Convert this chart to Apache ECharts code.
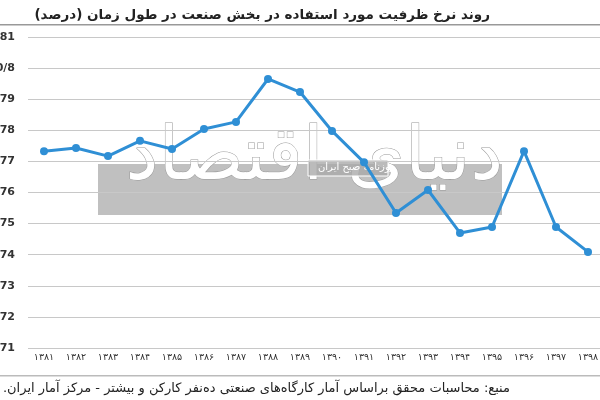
<!DOCTYPE html>
<html>
<head>
<meta charset="utf-8">
<script src="https://cdn.jsdelivr.net/npm/echarts@6/dist/echarts.min.js"></script>
<style>
  html, body { margin: 0; padding: 0; background: #fff; }
  #chart { width: 600px; height: 400px; }
</style>
</head>
<body>
<div id="chart"></div>
<script>
// سال‌ها (محور افقی)
var years = ['۱۳۸۱','۱۳۸۲','۱۳۸۳','۱۳۸۴','۱۳۸۵','۱۳۸۶','۱۳۸۷','۱۳۸۸','۱۳۸۹',
             '۱۳۹۰','۱۳۹۱','۱۳۹۲','۱۳۹۳','۱۳۹۴','۱۳۹۵','۱۳۹۶','۱۳۹۷','۱۳۹۸'];
// نرخ ظرفیت مورد استفاده (درصد)
var capacity = [77.33, 77.43, 77.17, 77.66, 77.40, 78.04, 78.27, 79.65, 79.23,
                77.98, 76.97, 75.34, 76.08, 74.70, 74.89, 77.33, 74.89, 74.09];
// برچسب‌های محور عمودی
var yTicks = [71, 72, 73, 74, 75, 76, 77, 78, 79, 80, 81];
var yLabels = ['71', '72', '73', '74', '75', '76', '77', '78', '79', '0/8', '81'];

var chart = echarts.init(document.getElementById('chart'));

var option = {
    animation: false,
    textStyle: { fontFamily: 'DejaVu Sans' },
    title: {
        text: 'روند نرخ ظرفیت مورد استفاده در بخش صنعت در طول زمان (درصد)',
        right: 105,
        top: 3,
        textStyle: { fontSize: 13.5, fontWeight: 'bold', color: '#222', fontFamily: 'DejaVu Sans' }
    },
    grid: { left: 28, top: 37, width: 576, height: 311, outerBoundsMode: 'none', containLabel: false },
    xAxis: {
        type: 'category',
        data: years,
        boundaryGap: true,
        axisLine: { show: false },
        axisTick: { show: false },
        axisLabel: { color: '#333', fontSize: 9.5, margin: 5, interval: 0 }
    },
    yAxis: {
        type: 'value',
        min: yTicks[0],
        max: yTicks[yTicks.length - 1],
        interval: 1,
        axisLine: { show: false },
        axisTick: { show: false },
        splitLine: { lineStyle: { color: '#c8c8c8', width: 1.2 } },
        axisLabel: {
            color: '#333', fontSize: 11, fontWeight: 'bold', margin: 13,
            formatter: function (v) { return yLabels[yTicks.indexOf(v)]; }
        }
    },
    graphic: [
        // خط زیر عنوان
        { type: 'rect', shape: { x: 0, y: 24, width: 600, height: 1.5 }, style: { fill: '#999' } },
        // خط بالای منبع
        { type: 'rect', shape: { x: 0, y: 375, width: 600, height: 1.5 }, style: { fill: '#bbb' } },
        // منبع
        { type: 'text', right: 90, top: 382,
          style: { text: 'منبع: محاسبات محقق براساس آمار کارگاه‌های صنعتی ده‌نفر کارکن و بیشتر - مرکز آمار ایران.\u200F',
                   fill: '#222', font: '13px "DejaVu Sans"', align: 'right' } },
        // واترمارک
        { type: 'rect', z: -1, shape: { x: 98, y: 164, width: 404, height: 51 },
          style: { fill: 'rgba(150,150,150,0.6)' } },
        { type: 'text', z: 0, left: 125, top: 122,
          style: { text: 'دنیای اقتصاد', fill: '#fff', stroke: '#999', lineWidth: 1,
                   font: '74px "DejaVu Sans"' } },
        { type: 'rect', z: 0, shape: { x: 308, y: 160, width: 80, height: 16 },
          style: { fill: 'rgba(170,170,170,0.8)', stroke: '#fff', lineWidth: 1 } },
        { type: 'text', z: 0, left: 318, top: 162,
          style: { text: 'روزنامه صبح ایران', fill: '#fff', font: '10px "DejaVu Sans"' } }
    ],
    series: [{
        type: 'line',
        data: capacity,
        symbol: 'circle',
        symbolSize: 8,
        lineStyle: { color: '#2f8fd5', width: 3 },
        itemStyle: { color: '#2f8fd5' },
        z: 5
    }]
};

chart.setOption(option);
</script>
</body>
</html>
